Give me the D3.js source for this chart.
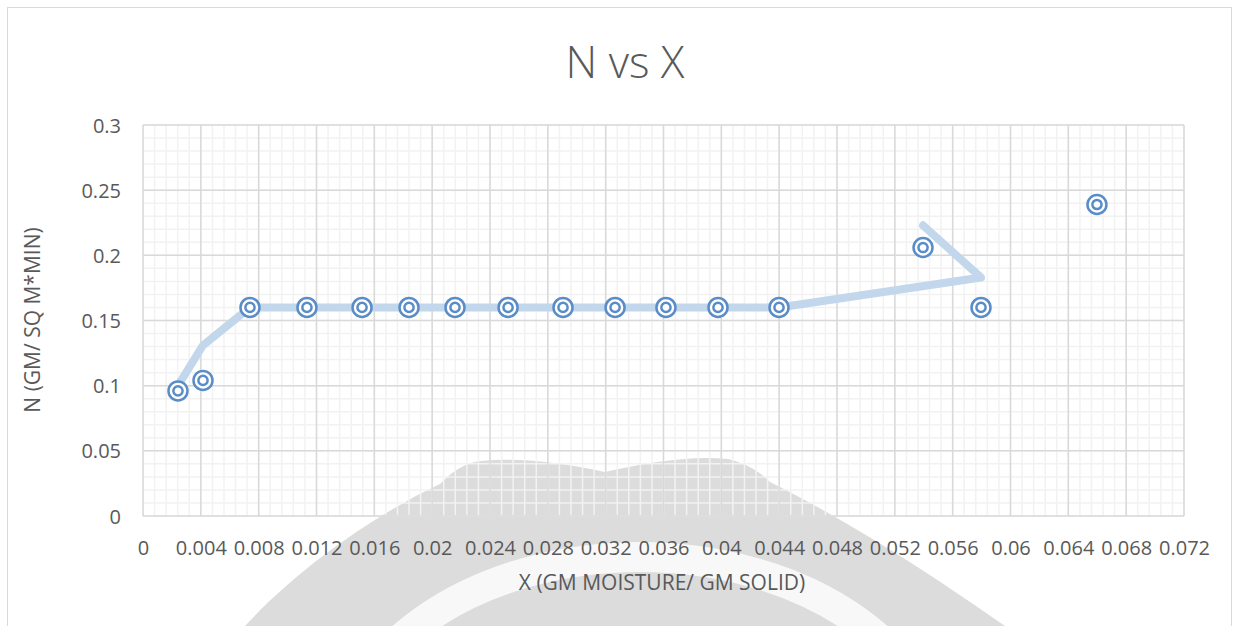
<!DOCTYPE html>
<html>
<head>
<meta charset="utf-8">
<script src="https://cdn.jsdelivr.net/npm/d3@7"></script>
<style>
  html, body { margin: 0; padding: 0; background: #fff; }
  svg { display: block; font-family: "Open Sans", "Noto Sans", sans-serif; }
</style>
</head>
<body>
<svg id="chart" width="1237" height="626"></svg>
<script>
// Drying-rate measurements: moisture content X and drying rate N
const moistureX = [0.00242, 0.00415, 0.0074, 0.01134, 0.01515, 0.0184, 0.02158, 0.02525,
                   0.02905, 0.03265, 0.03617, 0.03977, 0.04399, 0.05395, 0.05796, 0.06598];
const rateN = [0.096, 0.104, 0.16, 0.16, 0.16, 0.16, 0.16, 0.16,
               0.16, 0.16, 0.16, 0.16, 0.16, 0.206, 0.16, 0.239];

// Smoothed drying-rate curve (plotted in data order)
const curveX = [0.00242, 0.00415, 0.0074, 0.01134, 0.01515, 0.0184, 0.02158, 0.02525,
                0.02905, 0.03265, 0.03617, 0.03977, 0.04399, 0.05796, 0.05395];
const curveN = [0.1, 0.131, 0.16, 0.16, 0.16, 0.16, 0.16, 0.16,
                0.16, 0.16, 0.16, 0.16, 0.16, 0.183, 0.223];

// Axis ticks and labels
const xTicks = [0, 0.004, 0.008, 0.012, 0.016, 0.02, 0.024, 0.028, 0.032, 0.036,
                0.04, 0.044, 0.048, 0.052, 0.056, 0.06, 0.064, 0.068, 0.072];
const xTickLabels = ["0", "0.004", "0.008", "0.012", "0.016", "0.02", "0.024", "0.028", "0.032", "0.036",
                     "0.04", "0.044", "0.048", "0.052", "0.056", "0.06", "0.064", "0.068", "0.072"];
const yTicks = [0, 0.05, 0.1, 0.15, 0.2, 0.25, 0.3];
const yTickLabels = ["0", "0.05", "0.1", "0.15", "0.2", "0.25", "0.3"];

const chartTitle = "N vs X";
const xTitle = "X (GM MOISTURE/ GM SOLID)";
const yTitle = "N (GM/ SQ M*MIN)";

const svg = d3.select("#chart");
const W = 1237, H = 626;
const plot = { left: 143, right: 1184, top: 125, bottom: 516 };

const x = d3.scaleLinear().domain([0, 0.072]).range([plot.left, plot.right]);
const y = d3.scaleLinear().domain([0, 0.3]).range([plot.bottom, plot.top]);

// chart frame
svg.append("rect").attr("x", 7.5).attr("y", 7.5).attr("width", W - 13).attr("height", H)
  .attr("fill", "#fff").attr("stroke", "#d9d9d9").attr("stroke-width", 1);

// background emblem
const emblem = svg.append("g");
emblem.append("path")
  .attr("d", "M245,626 C300,566 380,512 440,484 C452,472 462,464 480,461 C525,457 565,464 605,472 " +
             "C645,463 690,455 728,459 C748,464 760,472 770,482 C860,527 945,584 1005,626 Z")
  .attr("fill", "#dcdcdc");
emblem.append("ellipse")
  .attr("cx", 640).attr("cy", 772).attr("rx", 305).attr("ry", 215)
  .attr("fill", "none").attr("stroke", "#ffffff").attr("stroke-width", 30).attr("opacity", 0.8);

// minor grid
const xMinor = d3.range(0, 91).map(i => i * 0.0008);
const yMinor = d3.range(0, 31).map(i => i * 0.01);
const grid = svg.append("g");
grid.selectAll(".xmin").data(xMinor).join("line")
  .attr("x1", d => x(d)).attr("x2", d => x(d))
  .attr("y1", plot.top).attr("y2", plot.bottom)
  .attr("stroke", "#f2f2f2").attr("stroke-width", 1.5);
grid.selectAll(".ymin").data(yMinor).join("line")
  .attr("x1", plot.left).attr("x2", plot.right)
  .attr("y1", d => y(d)).attr("y2", d => y(d))
  .attr("stroke", "#f2f2f2").attr("stroke-width", 1.5);

// major grid
grid.selectAll(".xmaj").data(xTicks).join("line")
  .attr("x1", d => x(d)).attr("x2", d => x(d))
  .attr("y1", plot.top).attr("y2", plot.bottom)
  .attr("stroke", "#d9d9d9").attr("stroke-width", 1.5);
grid.selectAll(".ymaj").data(yTicks).join("line")
  .attr("x1", plot.left).attr("x2", plot.right)
  .attr("y1", d => y(d)).attr("y2", d => y(d))
  .attr("stroke", "#d9d9d9").attr("stroke-width", 1.5);

// axes (labels only)
const xAxis = d3.axisBottom(x).tickValues(xTicks).tickSize(0).tickPadding(0)
  .tickFormat((d, i) => xTickLabels[i]);
const gx = svg.append("g").attr("transform", `translate(0,${plot.bottom + 39})`).call(xAxis);
gx.select(".domain").remove();
gx.selectAll("text").attr("fill", "#595959").attr("font-size", 20).attr("dy", 0)
  .attr("font-family", "'Open Sans', sans-serif");

const yAxis = d3.axisLeft(y).tickValues(yTicks).tickSize(0).tickPadding(0)
  .tickFormat((d, i) => yTickLabels[i]);
const gy = svg.append("g").attr("transform", `translate(${plot.left - 22},0)`).call(yAxis);
gy.select(".domain").remove();
gy.selectAll("text").attr("fill", "#595959").attr("font-size", 20).attr("dy", "0.35em")
  .attr("font-family", "'Open Sans', sans-serif");

// smoothed curve
const line = d3.line().x(d => x(d[0])).y(d => y(d[1]));
svg.append("path")
  .datum(d3.zip(curveX, curveN))
  .attr("d", line)
  .attr("fill", "none")
  .attr("stroke", "#c3d7ec")
  .attr("stroke-width", 8)
  .attr("stroke-linecap", "round")
  .attr("stroke-linejoin", "round");

// measured points
const pts = svg.append("g").selectAll("g").data(d3.zip(moistureX, rateN)).join("g")
  .attr("transform", d => `translate(${x(d[0])},${y(d[1])})`);
pts.append("circle").attr("r", 9.5).attr("fill", "#fff")
  .attr("stroke", "#5a8dc8").attr("stroke-width", 2.5);
pts.append("circle").attr("r", 4.6).attr("fill", "#fff")
  .attr("stroke", "#5a8dc8").attr("stroke-width", 2.5);

// titles
svg.append("text").attr("x", 625).attr("y", 78).attr("text-anchor", "middle")
  .attr("font-size", 44).attr("font-weight", 300).attr("fill", "#595959").text(chartTitle);
svg.append("text").attr("x", 662).attr("y", 590).attr("text-anchor", "middle")
  .attr("font-size", 21).attr("fill", "#595959").text(xTitle);
svg.append("text").attr("transform", "translate(40,320) rotate(-90)").attr("text-anchor", "middle")
  .attr("font-size", 21).attr("fill", "#595959").text(yTitle);
</script>
</body>
</html>
